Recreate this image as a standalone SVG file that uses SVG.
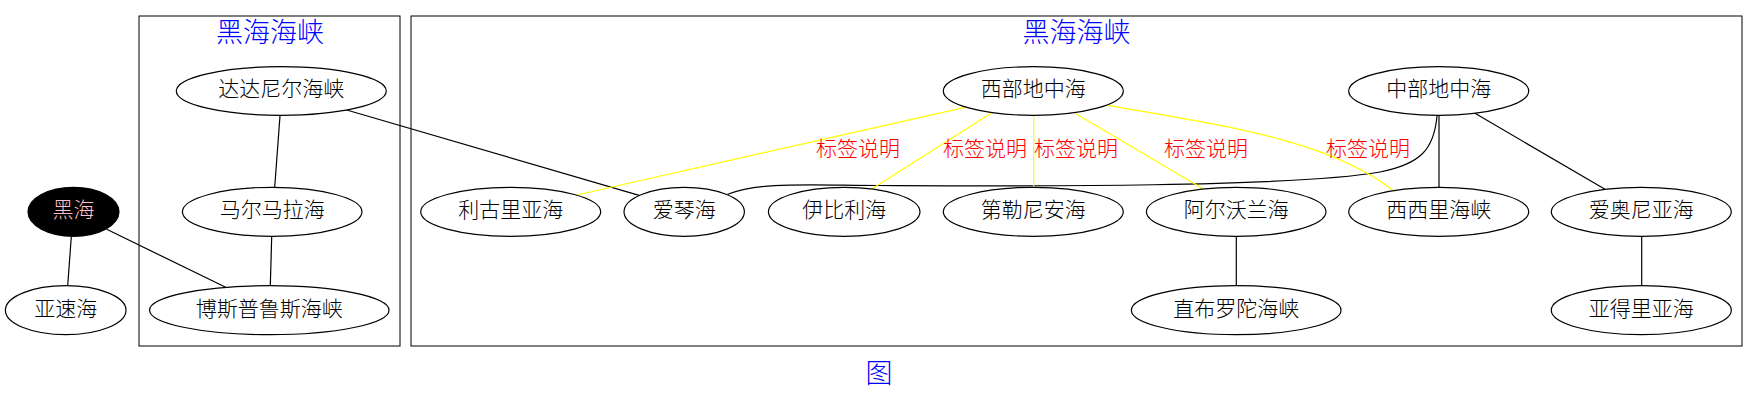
<svg xmlns="http://www.w3.org/2000/svg" width="1758" height="402" viewBox="0 0 1758 402">
<style>
text{font-family:"Noto Sans CJK SC","Noto Sans",sans-serif;text-anchor:middle;font-weight:300}
.cl{fill:none;stroke:#000;stroke-width:1}
.ct{font-size:27px;fill:#0000ff}
.n ellipse{fill:#fff;stroke:#000;stroke-width:1.2}
.n text{font-size:21px;fill:#000}
.e{fill:none;stroke:#000;stroke-width:1.2}
.y{fill:none;stroke:#ffff00;stroke-width:1.2}
.lb{font-size:21px;fill:#ff0000}
</style>
<rect width="1758" height="402" fill="#fff"/>
<g id="cluster1">
<rect class="cl" x="139" y="16" width="261" height="330"/>
<text class="ct" x="270" y="42">黑海海峡</text>
</g>
<g id="cluster2">
<rect class="cl" x="411" y="16" width="1331" height="330"/>
<text class="ct" x="1076.5" y="42">黑海海峡</text>
</g>
<g id="edges">
<path class="e" d="M71.3,236.7 L67.7,285.7"/>
<path class="e" d="M106.7,229.3 L225.7,287.3"/>
<path class="e" d="M280,115.7 L274.7,187.3"/>
<path class="e" d="M271.7,236.7 L270.3,285.7"/>
<path class="e" d="M346.7,110 L640,195.7"/>
<path class="e" d="M1437,116 C1434,150 1420,164 1380,172 C1290,188 1000,186 880,185.5 C800,185 760,182 727.7,194.3"/>
<path class="e" d="M1236.3,236.7 L1236.3,285.7"/>
<path class="e" d="M1439,115.7 L1439,187.3"/>
<path class="e" d="M1475,113.3 L1605,189.3"/>
<path class="e" d="M1641.7,236.7 L1641.7,285.7"/>
<path class="y" d="M965,107.3 L576.7,195"/>
<path class="y" d="M991,113.3 L871.7,189"/>
<path class="y" d="M1033.7,115.7 L1033.7,187.3"/>
<path class="y" d="M1075,113.3 L1203.3,189"/>
<path class="y" d="M1108,105.3 C1220,125 1330,140 1393.3,190.7"/>
<text class="lb" x="858" y="156">标签说明</text>
<text class="lb" x="985" y="156">标签说明</text>
<text class="lb" x="1076" y="156">标签说明</text>
<text class="lb" x="1206" y="156">标签说明</text>
<text class="lb" x="1368" y="156">标签说明</text>
</g>
<g id="n_heihai" class="n"><ellipse cx="73.5" cy="211.8" rx="45.5" ry="24.5" style="fill:#000"/><text x="73.5" y="217" style="fill:#ffc0cb">黑海</text></g>
<g id="n_yasu" class="n"><ellipse cx="65.7" cy="310.2" rx="60.3" ry="24.5"/><text x="65.7" y="315.5">亚速海</text></g>
<g id="n_dada" class="n"><ellipse cx="281.3" cy="91" rx="105" ry="24.3"/><text x="281.3" y="96.2">达达尼尔海峡</text></g>
<g id="n_maer" class="n"><ellipse cx="272.2" cy="211.8" rx="89.8" ry="24.5"/><text x="272.2" y="217">马尔马拉海</text></g>
<g id="n_bosi" class="n"><ellipse cx="269.3" cy="310.2" rx="119.7" ry="24.5"/><text x="269.3" y="315.5">博斯普鲁斯海峡</text></g>
<g id="n_ligu" class="n"><ellipse cx="510.7" cy="211.8" rx="90" ry="24.5"/><text x="510.7" y="217">利古里亚海</text></g>
<g id="n_aiqin" class="n"><ellipse cx="684.2" cy="211.8" rx="60.2" ry="24.5"/><text x="684.2" y="217">爱琴海</text></g>
<g id="n_yibi" class="n"><ellipse cx="844.2" cy="211.8" rx="75.8" ry="24.5"/><text x="844.2" y="217">伊比利海</text></g>
<g id="n_xibu" class="n"><ellipse cx="1033.3" cy="91" rx="90" ry="24.3"/><text x="1033.3" y="96.2">西部地中海</text></g>
<g id="n_dile" class="n"><ellipse cx="1033.3" cy="211.8" rx="90" ry="24.5"/><text x="1033.3" y="217">第勒尼安海</text></g>
<g id="n_aer" class="n"><ellipse cx="1236.2" cy="211.8" rx="89.8" ry="24.5"/><text x="1236.2" y="217">阿尔沃兰海</text></g>
<g id="n_zhibu" class="n"><ellipse cx="1236.2" cy="310.2" rx="104.8" ry="24.5"/><text x="1236.2" y="315.5">直布罗陀海峡</text></g>
<g id="n_xixi" class="n"><ellipse cx="1438.7" cy="211.8" rx="90" ry="24.5"/><text x="1438.7" y="217">西西里海峡</text></g>
<g id="n_zhongbu" class="n"><ellipse cx="1438.7" cy="91" rx="90" ry="24.3"/><text x="1438.7" y="96.2">中部地中海</text></g>
<g id="n_aiao" class="n"><ellipse cx="1641.3" cy="211.8" rx="90" ry="24.5"/><text x="1641.3" y="217">爱奥尼亚海</text></g>
<g id="n_yade" class="n"><ellipse cx="1641.3" cy="310.2" rx="90" ry="24.5"/><text x="1641.3" y="315.5">亚得里亚海</text></g>
<text x="879" y="383" style="font-size:27px;fill:#0000ff">图</text>
</svg>
